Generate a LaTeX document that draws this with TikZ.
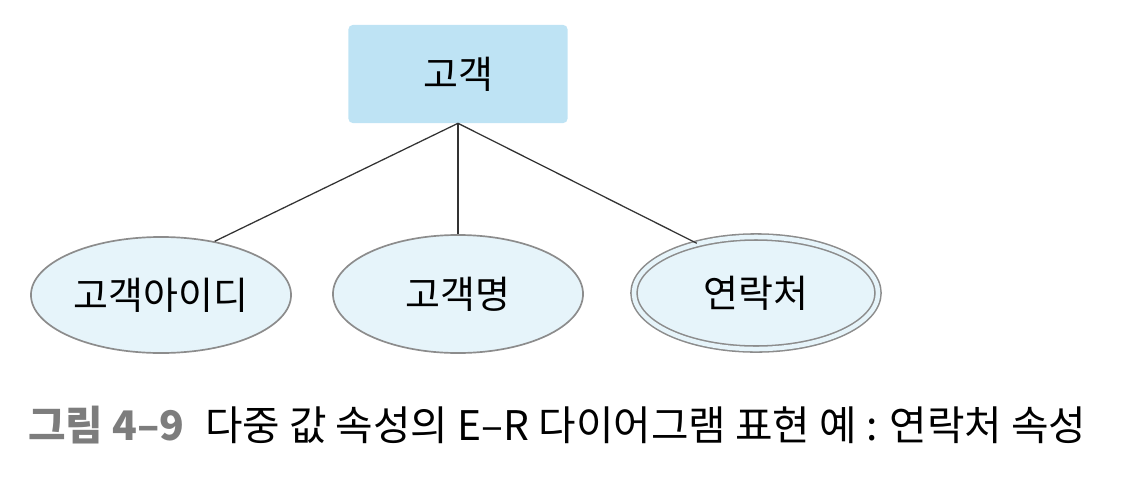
\documentclass[tikz,border=0pt]{standalone}
\usepackage{fontspec}
\setmainfont{Noto Sans CJK KR}
\usepackage{tikz}
\usetikzlibrary{positioning}
\usetikzlibrary{shapes.geometric}
\definecolor{entfill}{RGB}{190,227,244}
\definecolor{attfill}{RGB}{230,244,250}
\definecolor{attdraw}{RGB}{140,140,140}
\definecolor{capgray}{RGB}{125,125,125}
\tikzset{
  er/.style={
    entity/.style={rectangle, rounded corners=3pt, fill=entfill, minimum width=5.475cm, minimum height=2.45cm, font=\fontsize{27}{32}\selectfont},
    attr/.style={ellipse, draw=attdraw, line width=1.2pt, fill=attfill, minimum width=6.5cm, minimum height=2.9cm, inner sep=0pt, font=\fontsize{27}{32}\selectfont},
    multi/.style={attr, line width=1.1pt, double=attfill, double distance=3.2pt},
    link/.style={black!80, line width=0.9pt},
    caption/.style={font=\fontsize{29}{34}\selectfont, anchor=west, inner sep=0pt}
  }
}

\begin{document}
\begin{tikzpicture}
[
    er,
    x=0.025cm, y=-0.025cm
]
    \useasboundingbox (0,0) rectangle (1122,480);
    \node[entity] (cust) at (458,74) {고객};

    \node[attr] (custid) at (161,295) {고객아이디};
    \node[attr, minimum width=6.25cm, minimum height=2.95cm] (custname) at (458,294) {고객명};
    \node[multi, minimum width=6.1cm, minimum height=2.8cm] (contact) at (756,293) {연락처};

    \draw[link] (cust.south) -- (custid.45);
    \draw[link] (cust.south) -- (custname.north);
    \draw[link] (cust.south) -- (contact.140);

    \node[caption] (cap) at (28,425) {{\color{capgray}\bfseries 그림 4–9}\enspace 다중 값 속성의 E–R 다이어그램 표현 예 : 연락처 속성};
\end{tikzpicture}
\end{document}
